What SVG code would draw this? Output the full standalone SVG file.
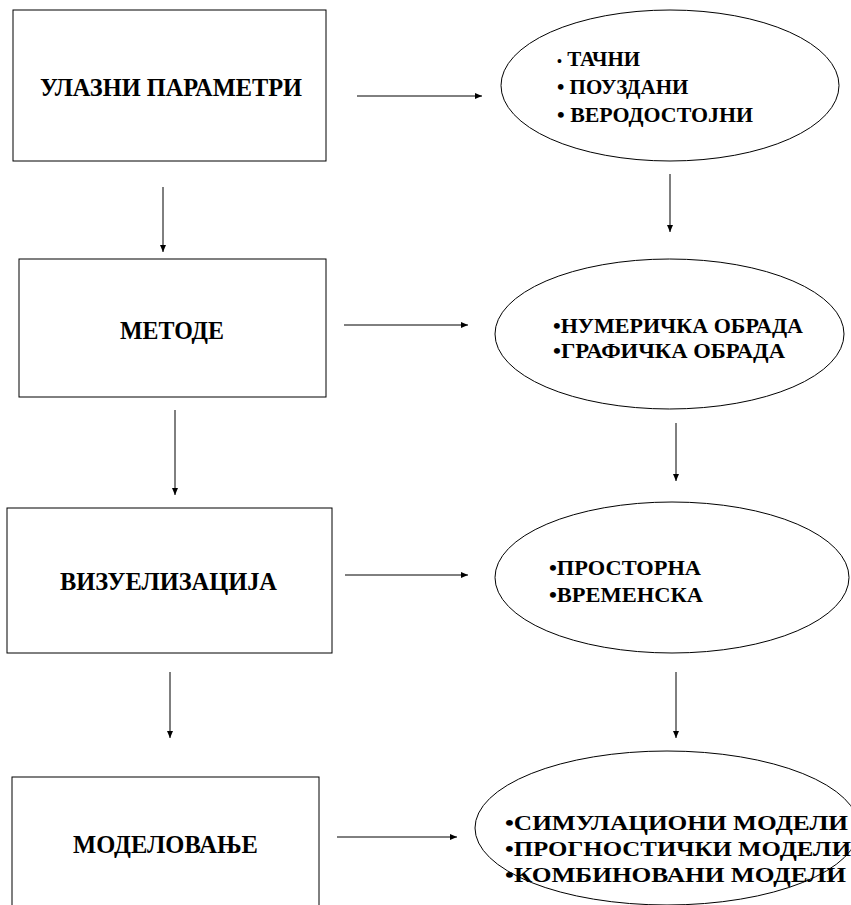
<svg xmlns="http://www.w3.org/2000/svg" width="851" height="905" viewBox="0 0 851 905">
<style>
.box{fill:#fff;stroke:#000;stroke-width:1}
.ell{fill:#fff;stroke:#000;stroke-width:1}
.t{font-family:"Liberation Serif","Times New Roman",serif;font-weight:bold;fill:#000}
.big{font-size:26px}
.sm{font-size:21px}
.c{stroke:#000;stroke-width:1;fill:none;marker-end:url(#ah)}
</style>
<defs>
<marker id="ah" markerUnits="userSpaceOnUse" markerWidth="8" markerHeight="8" refX="7" refY="4" orient="auto">
<path d="M0,1 L7,4 L0,7 Z" fill="#000"/>
</marker>
</defs>
<rect width="851" height="905" fill="#fff"/>
<g id="connectors">
<line class="c" x1="357" y1="96" x2="482" y2="96"/>
<line class="c" x1="344" y1="325" x2="468" y2="325"/>
<line class="c" x1="345" y1="575" x2="468" y2="575"/>
<line class="c" x1="337" y1="837" x2="457" y2="837"/>
<line class="c" x1="163" y1="187" x2="163" y2="252"/>
<line class="c" x1="175" y1="410" x2="175" y2="495"/>
<line class="c" x1="170" y1="672" x2="170" y2="738"/>
<line class="c" x1="670" y1="174" x2="670" y2="232"/>
<line class="c" x1="676" y1="423" x2="676" y2="481"/>
<line class="c" x1="676" y1="672" x2="676" y2="738"/>
</g>
<g id="box1">
<rect class="box" x="13" y="10" width="313" height="151"/>
<text class="t big" x="40" y="96" textLength="262" lengthAdjust="spacingAndGlyphs">УЛАЗНИ ПАРАМЕТРИ</text>
</g>
<g id="box2">
<rect class="box" x="19" y="259" width="307" height="138"/>
<text class="t big" x="120" y="339" textLength="104" lengthAdjust="spacingAndGlyphs">МЕТОДЕ</text>
</g>
<g id="box3">
<rect class="box" x="7" y="508" width="325" height="145"/>
<text class="t big" x="60" y="590" textLength="217" lengthAdjust="spacingAndGlyphs">ВИЗУЕЛИЗАЦИЈА</text>
</g>
<g id="box4">
<rect class="box" x="12" y="777" width="307" height="140"/>
<text class="t big" x="73" y="853" textLength="185" lengthAdjust="spacingAndGlyphs">МОДЕЛОВАЊЕ</text>
</g>
<g id="ell1">
<ellipse class="ell" cx="670" cy="85.5" rx="169" ry="75.5"/>
<text class="t sm" x="557" y="66"><tspan font-size="14">•</tspan> ТАЧНИ</text>
<text class="t sm" x="557" y="94">• ПОУЗДАНИ</text>
<text class="t sm" x="557" y="122" textLength="196" lengthAdjust="spacingAndGlyphs">• ВЕРОДОСТОЈНИ</text>
</g>
<g id="ell2">
<ellipse class="ell" cx="669.5" cy="334" rx="174.5" ry="75"/>
<text class="t sm" x="553" y="333" textLength="250" lengthAdjust="spacingAndGlyphs">•НУМЕРИЧКА ОБРАДА</text>
<text class="t sm" x="553" y="358" textLength="232" lengthAdjust="spacingAndGlyphs">•ГРАФИЧКА ОБРАДА</text>
</g>
<g id="ell3">
<ellipse class="ell" cx="672" cy="577.5" rx="177" ry="75.5"/>
<text class="t sm" x="549" y="575" textLength="152" lengthAdjust="spacingAndGlyphs">•ПРОСТОРНА</text>
<text class="t sm" x="549" y="602" textLength="154" lengthAdjust="spacingAndGlyphs">•ВРЕМЕНСКА</text>
</g>
<g id="ell4">
<ellipse class="ell" cx="667" cy="828" rx="192" ry="77"/>
<text class="t sm" x="505" y="830" textLength="343" lengthAdjust="spacingAndGlyphs">•СИМУЛАЦИОНИ МОДЕЛИ</text>
<text class="t sm" x="505" y="856" textLength="346" lengthAdjust="spacingAndGlyphs">•ПРОГНОСТИЧКИ МОДЕЛИ</text>
<text class="t sm" x="505" y="882" textLength="341" lengthAdjust="spacingAndGlyphs">•КОМБИНОВАНИ МОДЕЛИ</text>
</g>
</svg>
